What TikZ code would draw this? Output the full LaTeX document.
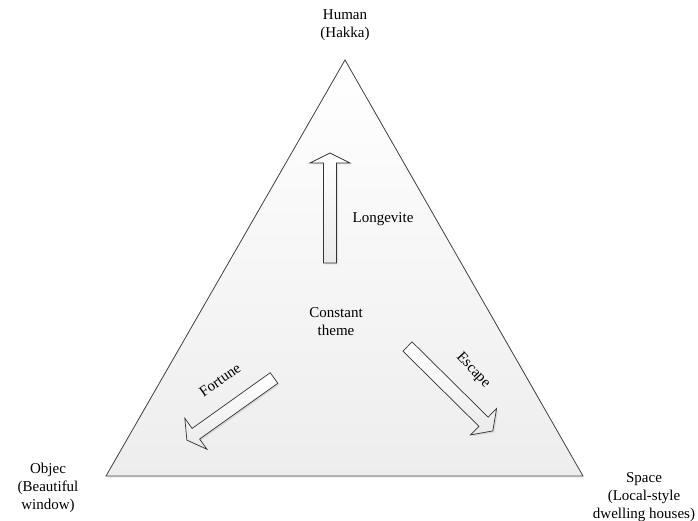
\documentclass[tikz,border=0pt]{standalone}
\usepackage{fontspec}
\setmainfont{Liberation Serif}
\usetikzlibrary{shadows}
\newcommand\fatarr[6]{%
  \begin{scope}[shift={(#1,#2)},rotate=#3]
    \path[fat] (0,-6.5) -- ({#4-#6},-6.5) -- ({#4-#6},-#5) -- (#4,0) -- ({#4-#6},#5) -- ({#4-#6},6.5) -- (0,6.5) -- cycle;
  \end{scope}}
\begin{document}
\begin{tikzpicture}[x=1pt,y=1pt,
  lbl/.style={align=center,font=\fontsize{15}{18}\selectfont,inner sep=0pt},
  tri/.style={draw=black!75,line width=0.8pt,top color=white,bottom color=black!7,
    drop shadow={opacity=0.12,shadow xshift=1pt,shadow yshift=-2pt}},
  fat/.style={draw=black!80,line width=0.7pt,top color=white,bottom color=black!8,
    drop shadow={opacity=0.2,shadow xshift=1.5pt,shadow yshift=-1.5pt}}]
\useasboundingbox (0,0) rectangle (698,521);
\coordinate (top) at (345,461);
\coordinate (bl) at (106,45);
\coordinate (br) at (583,45);
\path[tri] (top) -- (br) -- (bl) -- cycle;
% arrows
\fatarr{330}{258}{90}{110}{20}{10}
\fatarr{274}{143}{215.5}{107}{19}{11}
\fatarr{407.5}{174.5}{-44.7}{120}{18.5}{13}
% labels
\node[lbl] (human) at (345,496) {Human\\(Hakka)};
\node[lbl] (objec) at (48,33) {Objec\\(Beautiful\\window)};
\node[lbl] (space) at (644,24) {Space\\(Local-style\\dwelling houses)};
\node[lbl] (longevite) at (383,302) {Longevite};
\node[lbl] (theme) at (336,199) {Constant\\theme};
\node[lbl,rotate=35] (fortune) at (220,141) {Fortune};
\node[lbl,rotate=-47] (escape) at (473,150.5) {Escape};
\end{tikzpicture}
\end{document}
